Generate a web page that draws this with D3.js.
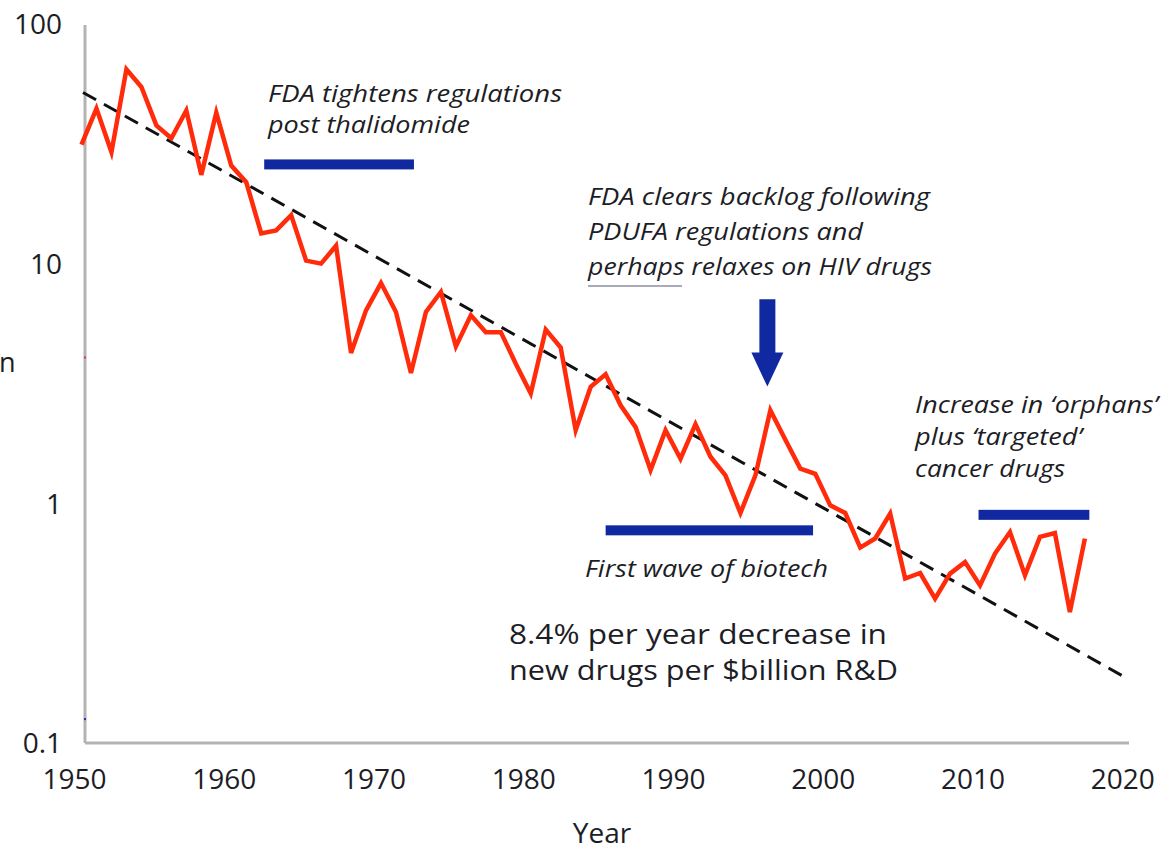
<!DOCTYPE html>
<html>
<head>
<meta charset="utf-8">
<script src="https://cdn.jsdelivr.net/npm/d3@7"></script>
<style>
  body { margin: 0; background: #fff; }
  svg { display: block; }
  text { font-family: "Open Sans", "Noto Sans", sans-serif; fill: #1d1d26; }
</style>
</head>
<body>
<div id="chart"></div>
<script>
// new drugs per $billion R&D, one value per year
const years = d3.range(1950, 2018);
const drugsPerBillion = [
  31.7, 44.8, 29.5, 65.3, 55.1, 38.1, 33.7, 44.0, 23.7, 43.1,
  25.9, 22.1, 13.5, 13.9, 16.1, 10.4, 10.1, 12.0, 4.28, 6.45,
  8.38, 6.35, 3.53, 6.35, 7.69, 4.56, 6.15, 5.23, 5.23, 3.86,
  2.90, 5.36, 4.51, 2.04, 3.09, 3.49, 2.59, 2.10, 1.39, 2.04,
  1.55, 2.16, 1.58, 1.32, 0.92, 1.32, 2.47, 1.86, 1.41, 1.34,
  0.99, 0.92, 0.66, 0.72, 0.915, 0.49, 0.517, 0.404, 0.514, 0.574,
  0.459, 0.623, 0.766, 0.506, 0.731, 0.759, 0.355, 0.719
];
// fitted exponential trend, two ends
const trendYears = [1950.1, 2019.8];
const trendValues = [52.3, 0.188];

const xTicks = [1950, 1960, 1970, 1980, 1990, 2000, 2010, 2020];
const yTicks = [0.1, 1, 10, 100];

// blue period bars: start year, end year, level
const barFrom = [1962.7, 1985.5, 2010.4];
const barTo = [1972.7, 1999.35, 2017.8];
const barLevel = [26.2, 0.779, 0.904];

// arrow pointing at the 1996 spike
const arrowYear = 1996.3;
const arrowTop = 7.17;
const arrowTip = 3.1;

const width = 1162, height = 850;
const svg = d3.select("#chart").append("svg")
  .attr("width", width)
  .attr("height", height);

const x = d3.scaleLinear().domain([1950, 2020]).range([74, 1122.3]);
const y = d3.scaleLog().domain([0.1, 100]).range([744, 25]);

// axis lines
svg.append("line")
  .attr("x1", 85).attr("x2", 85)
  .attr("y1", y(100)).attr("y2", 743)
  .attr("stroke", "#b3b3b3").attr("stroke-width", 3);
svg.append("line")
  .attr("x1", 85).attr("x2", 1129)
  .attr("y1", 743).attr("y2", 743)
  .attr("stroke", "#b3b3b3").attr("stroke-width", 3);

// stray marks on the y axis
svg.append("rect").attr("x", 84).attr("y", y(4.1) - 1).attr("width", 2).attr("height", 2).attr("fill", "#e0306a");
svg.append("rect").attr("x", 84).attr("y", y(0.127) - 1).attr("width", 2).attr("height", 2).attr("fill", "#2a2ab0");

// tick labels
const xAxis = svg.append("g")
  .attr("transform", "translate(0,743)")
  .call(d3.axisBottom(x).tickValues(xTicks).tickSize(0).tickFormat(d3.format("d")));
xAxis.select(".domain").remove();
xAxis.selectAll("text")
  .attr("y", 46).attr("dy", null)
  .style("font-size", "28px")
  .style("font-family", "'Open Sans', sans-serif")
  .attr("fill", "#1d1d26");

const yAxis = svg.append("g")
  .attr("transform", "translate(62,0)")
  .call(d3.axisLeft(y).tickValues(yTicks).tickSize(0).tickPadding(0).tickFormat(d => d));
yAxis.select(".domain").remove();
yAxis.selectAll("text")
  .style("font-size", "28px")
  .style("font-family", "'Open Sans', sans-serif")
  .attr("fill", "#1d1d26");

// what is left of the y title at the left edge
svg.append("text")
  .attr("x", -1).attr("y", 372)
  .style("font-size", "27px")
  .text("n");

svg.append("text")
  .attr("x", 602).attr("y", 843)
  .attr("text-anchor", "middle")
  .style("font-size", "28px")
  .text("Year");

// trend line
const trend = trendYears.map((yr, i) => ({ year: yr, value: trendValues[i] }));
svg.append("path")
  .datum(trend)
  .attr("fill", "none")
  .attr("stroke", "#111")
  .attr("stroke-width", 3)
  .attr("stroke-dasharray", "15,9")
  .attr("d", d3.line().x(d => x(d.year + 0.5)).y(d => y(d.value)));

// data line, points at mid-year
const series = years.map((yr, i) => ({ year: yr, value: drugsPerBillion[i] }));
svg.append("path")
  .datum(series)
  .attr("fill", "none")
  .attr("stroke", "#ff2b0b")
  .attr("stroke-width", 4.5)
  .attr("stroke-linejoin", "miter")
  .attr("d", d3.line().x(d => x(d.year + 0.5)).y(d => y(d.value)));

// blue bars
const bars = barFrom.map((f, i) => ({ from: f, to: barTo[i], level: barLevel[i] }));
svg.selectAll(".period")
  .data(bars)
  .enter().append("rect")
  .attr("class", "period")
  .attr("x", d => x(d.from))
  .attr("width", d => x(d.to) - x(d.from))
  .attr("y", d => y(d.level) - 5)
  .attr("height", 10)
  .attr("fill", "#1029a0");

// arrow
const ax = x(arrowYear), aTop = y(arrowTop), aTip = y(arrowTip);
const headH = 34;
svg.append("path")
  .attr("fill", "#1029a0")
  .attr("d", `M${ax - 8},${aTop} L${ax + 8},${aTop} L${ax + 8},${aTip - headH} L${ax + 16},${aTip - headH}
    L${ax},${aTip} L${ax - 16},${aTip - headH} L${ax - 8},${aTip - headH} Z`);

// annotations; the source font is wider than Open Sans, so stretch each line to its width
function block(lines, widths, x0, y0, step, size, italic) {
  lines.forEach((s, i) => {
    svg.append("text")
      .attr("x", x0).attr("y", y0 + i * step)
      .attr("textLength", widths[i])
      .attr("lengthAdjust", "spacingAndGlyphs")
      .style("font-size", size + "px")
      .style("font-style", italic ? "italic" : "normal")
      .text(s);
  });
}

block(["FDA tightens regulations", "post thalidomide"], [294, 202], 268, 102, 31, 24, true);
block(["FDA clears backlog following", "PDUFA regulations and", "perhaps relaxes on HIV drugs"],
  [342, 275, 344], 588, 205, 35, 24.5, true);
svg.append("line")
  .attr("x1", 588).attr("x2", 682)
  .attr("y1", 286).attr("y2", 286)
  .attr("stroke", "#8a8fa3").attr("stroke-width", 1.5);
block(["Increase in \u2018orphans\u2019", "plus \u2018targeted\u2019", "cancer drugs"], [243, 167, 150], 915, 413, 32, 24, true);
block(["First wave of biotech"], [243], 585, 577, 0, 24, true);
block(["8.4% per year decrease in", "new drugs per $billion R&D"], [378, 389], 509, 644, 36, 27, false);
</script>
</body>
</html>
